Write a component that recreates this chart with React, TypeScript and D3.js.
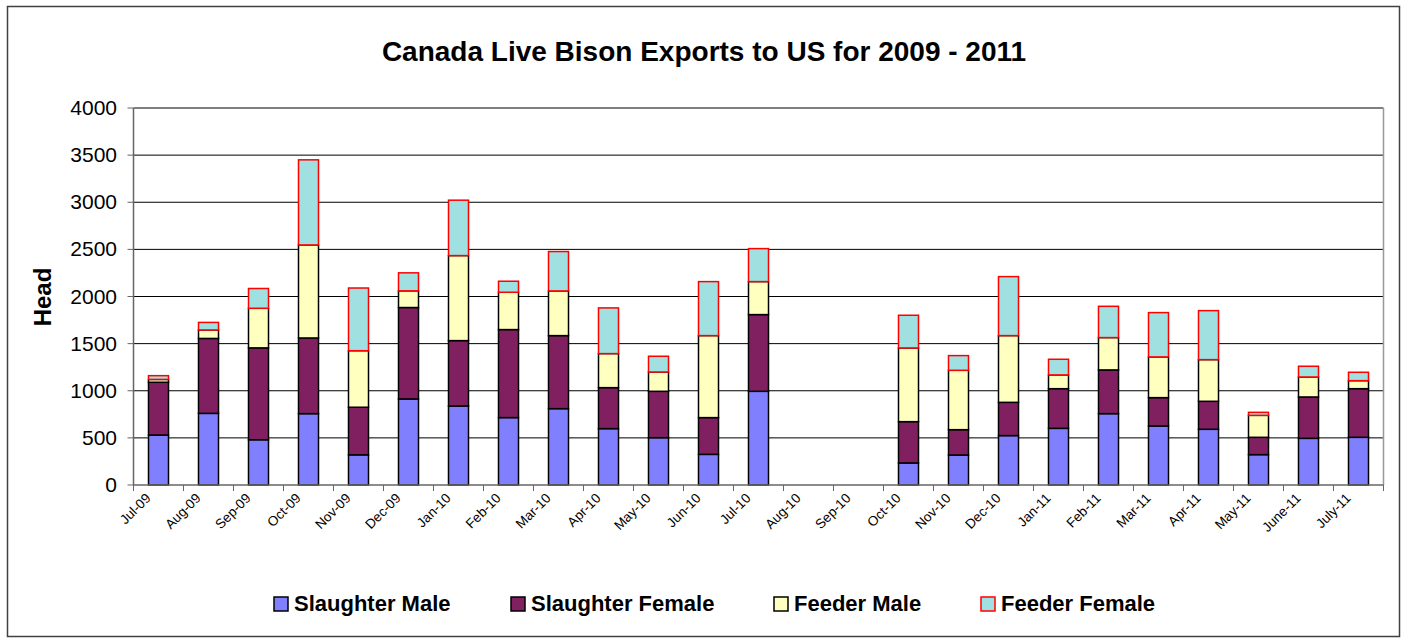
import * as d3 from "d3";
import React from "react";

const months = [
  "Jul-09", "Aug-09", "Sep-09", "Oct-09", "Nov-09", "Dec-09", "Jan-10", "Feb-10", "Mar-10",
  "Apr-10", "May-10", "Jun-10", "Jul-10", "Aug-10", "Sep-10", "Oct-10", "Nov-10", "Dec-10",
  "Jan-11", "Feb-11", "Mar-11", "Apr-11", "May-11", "June-11", "July-11",
];
const slaughterMale = [530, 760, 480, 757, 320, 913, 838, 715, 810, 598, 502, 325, 994, 0, 0, 234, 318, 524, 601, 757, 626, 591, 322, 495, 506];
const slaughterFemale = [560, 795, 975, 803, 505, 970, 694, 934, 775, 435, 492, 390, 814, 0, 0, 438, 269, 353, 421, 464, 301, 297, 184, 439, 516];
const feederMale = [30, 90, 420, 987, 600, 177, 902, 396, 474, 361, 205, 870, 350, 0, 0, 782, 630, 708, 146, 343, 432, 442, 233, 212, 85];
const feederFemale = [40, 80, 210, 903, 665, 191, 588, 117, 418, 485, 167, 573, 350, 0, 0, 347, 156, 626, 166, 332, 470, 520, 32, 114, 89];

const seriesNames = ["Slaughter Male", "Slaughter Female", "Feeder Male", "Feeder Female"];
const yTicks = [0, 500, 1000, 1500, 2000, 2500, 3000, 3500, 4000];

const fills = ["#8080FF", "#802060", "#FFFFC0", "#A0E0E0"];
const strokes = ["#000", "#000", "#000", "#FF0000"];

const W = 1405;
const H = 644;
const left = 133.5;
const right = 1383.5;
const top = 108;
const bottom = 485;
const font = "Arial, 'Liberation Sans', sans-serif";

const App: React.FC = () => {
  const x = d3.scaleBand<string>().domain(months).range([left, right]).paddingInner(0.6).paddingOuter(0.3);
  const y = d3.scaleLinear().domain([0, 4000]).range([bottom, top]);

  const rows = months.map((m, i) => ({
    month: m,
    sm: slaughterMale[i],
    sf: slaughterFemale[i],
    fm: feederMale[i],
    ff: feederFemale[i],
  }));
  const stacked = d3.stack<any>().keys(["sm", "sf", "fm", "ff"])(rows);
  const step = x.step();
  const legendX = [274, 511, 774, 981];

  return (
    <svg width={W} height={H} style={{ position: "absolute", left: 0, top: 0, background: "white" }}>
      <rect x={7.5} y={6.5} width={1392} height={630} fill="white" stroke="#404040" strokeWidth={1.5} />
      <text x={704} y={61} textAnchor="middle" fontFamily={font} fontWeight="bold" fontSize={28}>
        Canada Live Bison Exports to US for 2009 - 2011
      </text>

      {yTicks.map(t => (
        <g key={t}>
          {t > 0 && <line x1={left} x2={right} y1={y(t)} y2={y(t)} stroke="#000" strokeWidth={1} />}
          <line x1={left - 6} x2={left} y1={y(t)} y2={y(t)} stroke="#666" strokeWidth={1} />
          <text x={117} y={y(t) + 7} textAnchor="end" fontFamily={font} fontSize={21}>{t}</text>
        </g>
      ))}
      <line x1={right} x2={right} y1={top} y2={bottom} stroke="#999" strokeWidth={1.5} />

      <text transform={`translate(51, 297) rotate(-90)`} textAnchor="middle" fontFamily={font} fontWeight="bold" fontSize={24}>
        Head
      </text>

      {stacked.map((s, si) => (
        <g key={s.key}>
          {s.map((d, i) => d[1] - d[0] > 0 ? (
            <rect
              key={i}
              x={x(months[i])!}
              y={y(d[1])}
              width={x.bandwidth()}
              height={y(d[0]) - y(d[1])}
              fill={fills[si]}
              stroke={strokes[si]}
              strokeWidth={1.5}
            />
          ) : null)}
        </g>
      ))}

      <line x1={left} x2={left} y1={top} y2={bottom} stroke="#666" strokeWidth={1.5} />
      <line x1={left} x2={right} y1={bottom} y2={bottom} stroke="#666" strokeWidth={1.5} />
      {d3.range(months.length + 1).map(i => (
        <line key={i} x1={left + i * step} x2={left + i * step} y1={bottom} y2={bottom + 6} stroke="#666" strokeWidth={1} />
      ))}
      {months.map(m => {
        const cx = x(m)! + x.bandwidth() / 2;
        return (
          <text key={m} transform={`translate(${cx - 7}, ${bottom + 14}) rotate(-45)`} textAnchor="end" fontFamily={font} fontSize={13.5}>
            {m}
          </text>
        );
      })}

      {seriesNames.map((n, i) => (
        <g key={n}>
          <rect x={legendX[i]} y={597} width={14} height={14} fill={fills[i]} stroke={strokes[i]} strokeWidth={1.5} />
          <text x={legendX[i] + 20} y={611} fontFamily={font} fontWeight="bold" fontSize={22}>{n}</text>
        </g>
      ))}
    </svg>
  );
};

export default App;
